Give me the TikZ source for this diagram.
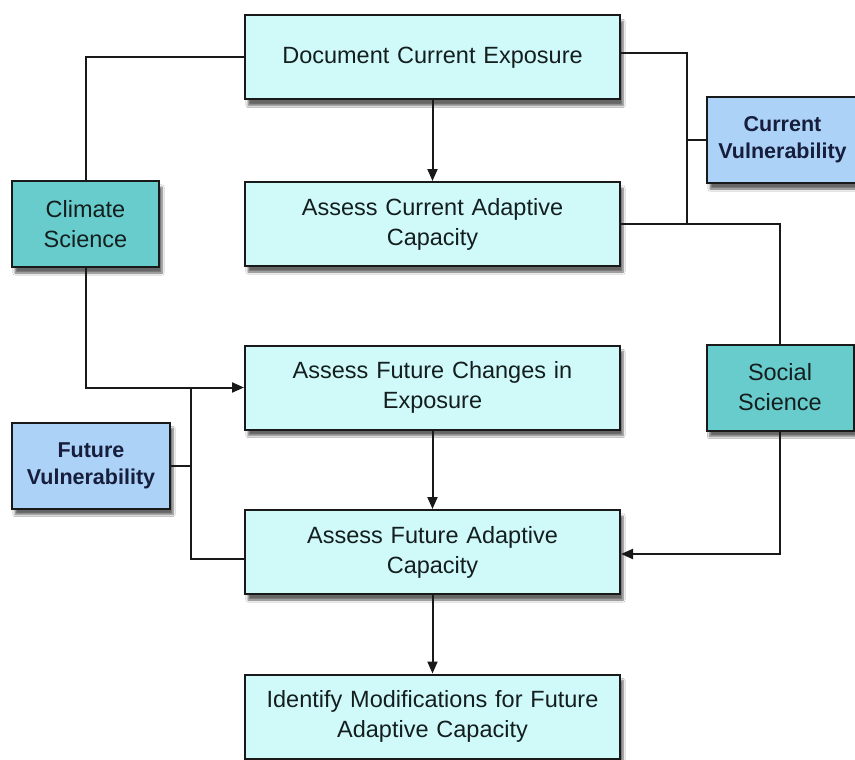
\documentclass[tikz,border=0pt]{standalone}
\usepackage{fontspec}
\setmainfont{Liberation Sans}
\usetikzlibrary{arrows.meta,shadows.blur}
\definecolor{mainfill}{RGB}{208,250,250}
\definecolor{teal}{RGB}{104,204,204}
\definecolor{vulblue}{RGB}{172,210,248}
\definecolor{edge}{RGB}{25,25,25}
\definecolor{navy}{RGB}{22,30,60}
\definecolor{txt}{RGB}{20,30,30}
\tikzset{
  boxbase/.style={draw=edge, line width=2pt, align=center, inner sep=2pt, text=txt,
    font=\fontsize{23.5}{30}\selectfont,
    blur shadow={shadow xshift=3pt, shadow yshift=-6pt, shadow blur steps=6, shadow opacity=60}},
  mainbox/.style={boxbase, fill=mainfill, minimum width=375pt, minimum height=84pt, text width=355pt},
  sciencebox/.style={boxbase, fill=teal, minimum width=147pt, minimum height=86pt, text width=140pt},
  vulbox/.style={boxbase, fill=vulblue, text=navy, minimum height=86pt,
    font=\fontsize{21.5}{27}\selectfont\bfseries},
  link/.style={draw=edge, line width=2pt},
  arrowlink/.style={link, -{Triangle[length=12pt,width=10pt]}}
}
\begin{document}
\begin{tikzpicture}[x=1pt,y=-1pt]
\useasboundingbox[fill=white] (0,0) rectangle (855,760);

\node[mainbox] (b1) at (432.5,57.5) {Document Current Exposure};
\node[mainbox] (b2) at (432.5,224) {Assess Current Adaptive\\Capacity};
\node[mainbox] (b3) at (432.5,387.5) {Assess Future Changes in\\Exposure};
\node[mainbox] (b4) at (432.5,552) {Assess Future Adaptive\\Capacity};
\node[mainbox] (b5) at (432.5,716.5) {Identify Modifications for Future\\Adaptive Capacity};

\node[sciencebox] (clim) at (85.5,224) {Climate\\Science};
\node[sciencebox] (soc) at (780,387.5) {Social\\Science};
\node[vulbox, minimum width=158pt, text width=152pt] (fv) at (91,465.5) {Future\\Vulnerability};
\node[vulbox, minimum width=151pt, text width=145pt] (cv) at (782.5,140) {Current\\Vulnerability};

% vertical flow
\draw[arrowlink] (b1) -- (b2);
\draw[arrowlink] (b3) -- (b4);
\draw[arrowlink] (b4) -- (b5);

% left side
\draw[link] (clim.north) |- (b1.west);
\draw[arrowlink] (clim.south) |- (b3.west);
\coordinate (jl) at (191,387.5);
\draw[link] (fv.east) -- (fv.east -| jl);
\draw[link] (jl) |- ([yshift=-7pt]b4.west);

% right side
\coordinate (jr) at (687,224);
\draw[link] ([yshift=4pt]b1.east) -| (jr);
\draw[link] (cv.west) -- (cv.west -| jr);
\draw[link] (b2.east) -| (soc.north);
\draw[arrowlink] (soc.south) |- ([yshift=-2pt]b4.east);
\end{tikzpicture}
\end{document}
